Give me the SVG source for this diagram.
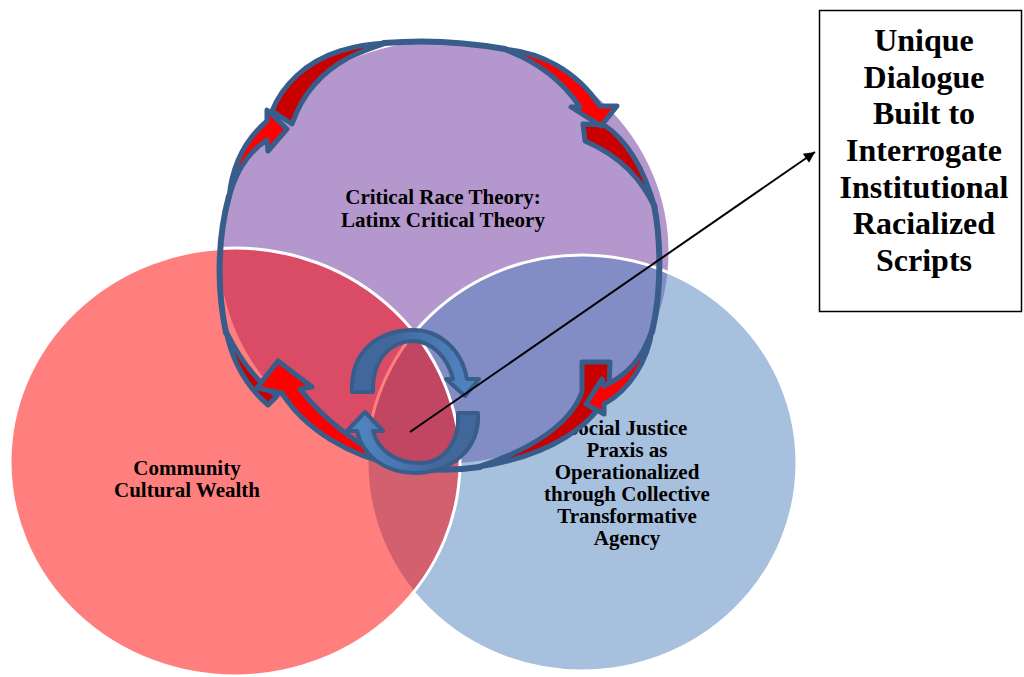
<svg xmlns="http://www.w3.org/2000/svg" width="1024" height="677" viewBox="0 0 1024 677">
<defs>
<style>
.circ{stroke:#ffffff;stroke-width:3;fill-opacity:0.5}
.lbl{font-family:"Liberation Serif","Times New Roman",serif;font-weight:bold;font-size:21px;fill:#000000;text-anchor:middle}
.big{font-size:32px}
.loop{fill:none;stroke:#385D8A;stroke-width:6;stroke-linecap:round}
.arr{stroke:#385D8A;stroke-width:5;stroke-linejoin:round}
.sm{stroke:#385D8A;stroke-width:4;stroke-linejoin:round}
.bright{fill:#FF0000}
.dark{fill:#C80000}
.conn{stroke:#000000;stroke-width:2;fill:none}
</style>
<linearGradient id="g1" x1="0" y1="0" x2="1" y2="0">
<stop offset="0.3" stop-color="#41679B"/>
<stop offset="0.85" stop-color="#4F81BD"/>
</linearGradient>
<linearGradient id="g2" x1="1" y1="0" x2="0" y2="0">
<stop offset="0.3" stop-color="#41679B"/>
<stop offset="0.85" stop-color="#4F81BD"/>
</linearGradient>
<marker id="ah" viewBox="0 0 10 10" refX="10" refY="5" markerWidth="15" markerHeight="11" markerUnits="userSpaceOnUse" orient="auto">
<path d="M0,0 L10,5 L0,10 Z" fill="#000000"/>
</marker>
</defs>

<g id="circle-crt">
<ellipse class="circ" cx="444" cy="252" rx="226" ry="213" fill="#692F99"/>
</g>
<g id="circle-sjp">
<ellipse class="circ" cx="582" cy="463" rx="215" ry="208" fill="#4F81BD"/>
</g>
<g id="circle-ccw">
<ellipse class="circ" cx="235" cy="462" rx="225" ry="214" fill="#FF0000"/>
</g>

<g id="label-crt">
<text class="lbl" x="443" y="204">Critical Race Theory:</text>
<text class="lbl" x="443" y="227">Latinx Critical Theory</text>
</g>
<g id="label-ccw">
<text class="lbl" x="187" y="475">Community</text>
<text class="lbl" x="187" y="497">Cultural Wealth</text>
</g>
<g id="label-sjp">
<text class="lbl" x="627" y="435">Social Justice</text>
<text class="lbl" x="627" y="457">Praxis as</text>
<text class="lbl" x="627" y="479">Operationalized</text>
<text class="lbl" x="627" y="501">through Collective</text>
<text class="lbl" x="627" y="523">Transformative</text>
<text class="lbl" x="627" y="545">Agency</text>
</g>

<g id="cycle-loop">
<path class="loop" d="M384,43 Q443,38 505,49"/>
<path class="loop" d="M654,205 C661,240 662,290 652,332"/>
<path class="loop" d="M480,467 Q440,473 396,466"/>
<path class="loop" d="M226,333 C217,290 217,240 229,196"/>
<path class="arr dark" d="M272,111 C282,86 305,62 340,51 Q362,44 386,43 Q364,50 348,58 C322,72 302,95 292,124 Z"/>
<path class="arr dark" d="M583,124 L604,125 C624,138 643,165 655,208 C642,180 622,157 585,141 Z"/>
<path class="arr dark" d="M582,362 L610,362 L609,390 C595,425 550,456 478,467 C530,450 570,425 582,392 Z"/>
<path class="arr dark" d="M226,331 C232,360 246,386 268,405 L277,396 C260,384 242,364 226,331 Z"/>
<path class="arr bright" d="M229,198 C232,165 246,139 267,121 L267,110 L287,129 L268,151 L267,140 C250,151 236,170 229,198 Z"/>
<path class="arr bright" d="M503,49 C540,52 576,70 600,106 L617,106 L601,126 L571,107 L580,107 C565,85 540,62 503,49 Z"/>
<path class="arr bright" d="M652,330 C648,360 630,390 604,404 L604,414 L586,404 L602,379 L604,386 C626,376 642,360 652,330 Z"/>
<path class="arr bright" d="M398,466 C350,456 305,430 282,393 L257,388 L278,361 L312,387 L300,389 C320,415 350,441 398,466 Z"/>
</g>

<g id="inner-cycle">
<path class="sm" fill="url(#g1)" d="M352,392 C350,350 380,330 413,330 C440,330 462,350 467,379 L479,379 L465,396 L446,379 L453,379 C448,358 432,341 413,341 C392,341 372,358 373,392 Z"/>
<path class="sm" fill="url(#g2)" d="M478,413 C480,450 450,473 415,473 C385,473 362,455 357,431 L347,431 L365,412 L383,431 L373,431 C378,450 395,463 420,463 C445,463 460,440 458,413 Z"/>
</g>

<g id="callout-box">
<rect x="819.5" y="10.5" width="202" height="301" fill="#ffffff" stroke="#000000" stroke-width="1.5"/>
<text class="lbl big" x="924" y="51">Unique</text>
<text class="lbl big" x="924" y="88">Dialogue</text>
<text class="lbl big" x="924" y="124">Built to</text>
<text class="lbl big" x="924" y="161">Interrogate</text>
<text class="lbl big" x="924" y="198">Institutional</text>
<text class="lbl big" x="924" y="234">Racialized</text>
<text class="lbl big" x="924" y="271">Scripts</text>
</g>

<g id="connectors">
<line class="conn" x1="410" y1="432" x2="815" y2="152" marker-end="url(#ah)"/>
</g>
</svg>
